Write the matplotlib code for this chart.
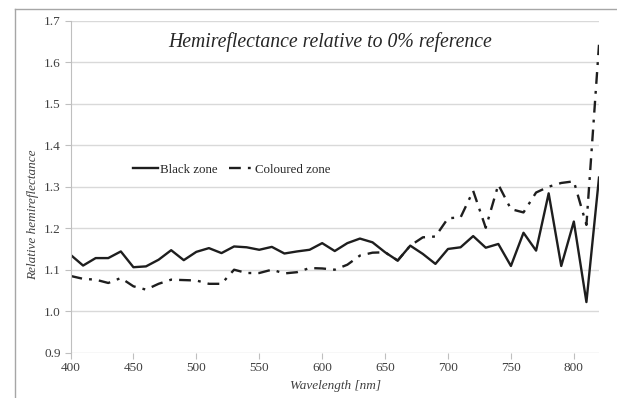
import matplotlib
matplotlib.use("Agg")
import matplotlib.pyplot as plt
from matplotlib.lines import Line2D

wavelength = list(range(400, 830, 10))

black_zone = [1.136, 1.110, 1.128, 1.128, 1.144, 1.106, 1.108, 1.124, 1.147, 1.123,
              1.143, 1.152, 1.140, 1.156, 1.154, 1.148, 1.155, 1.139, 1.144, 1.148,
              1.164, 1.145, 1.164, 1.175, 1.166, 1.142, 1.122, 1.158, 1.138, 1.114,
              1.150, 1.154, 1.181, 1.153, 1.162, 1.109, 1.189, 1.146, 1.284, 1.109,
              1.216, 1.022, 1.322]

coloured_zone = [1.085, 1.078, 1.076, 1.068, 1.080, 1.060, 1.052, 1.066, 1.076, 1.075,
                 1.074, 1.066, 1.066, 1.100, 1.092, 1.092, 1.100, 1.091, 1.094, 1.104,
                 1.103, 1.100, 1.112, 1.134, 1.141, 1.142, 1.122, 1.158, 1.178, 1.180,
                 1.224, 1.226, 1.290, 1.201, 1.305, 1.246, 1.238, 1.286, 1.300, 1.309,
                 1.313, 1.208, 1.642]

x_ticks = [400, 450, 500, 550, 600, 650, 700, 750, 800]
y_ticks = [0.9, 1.0, 1.1, 1.2, 1.3, 1.4, 1.5, 1.6, 1.7]

plt.rcParams["font.family"] = ["Liberation Serif", "DejaVu Serif"]

W, H = 617, 398
fig = plt.figure(figsize=(W / 100, H / 100), dpi=100)
ax = fig.add_axes([70.5 / W, 1 - 352.7 / H, (599 - 70.5) / W, (352.7 - 20.7) / H])

ax.plot(wavelength, black_zone, color="#1e1e1e", lw=1.7, label="Black zone")
ax.plot(wavelength, coloured_zone, color="#1e1e1e", lw=1.7, label="Coloured zone",
        ls=(0, (5, 3, 1.2, 3)))

ax.set_xlim(400, 820)
ax.set_ylim(0.9, 1.7)
ax.set_xticks(x_ticks)
ax.set_yticks(y_ticks)
ax.set_yticklabels([f"{v:.1f}" for v in y_ticks])
ax.grid(axis="y", color="#d9d9d9", lw=1)
ax.set_axisbelow(True)

for s in ["top", "right", "bottom"]:
    ax.spines[s].set_visible(False)
ax.spines["left"].set_color("#bfbfbf")
ax.tick_params(axis="y", length=4, color="#bfbfbf", labelsize=9.5, labelcolor="#404040", pad=3)
ax.tick_params(axis="x", length=4, color="#bfbfbf", labelsize=9.5, labelcolor="#404040", pad=3)

# title sits inside the plot area
ax.text(606, 1.648, "Hemireflectance relative to 0% reference",
        ha="center", va="center", fontsize=14.2, style="italic", color="#262626")

ax.legend(loc="center", bbox_to_anchor=(232 / W, 1 - 170 / H),
          bbox_transform=fig.transFigure, ncol=2, frameon=False, fontsize=9.3,
          handlelength=1.9, handletextpad=0.15, columnspacing=0.9,
          labelcolor="#262626")

fig.text(33 / W, 1 - 215 / H, "Relative hemireflectance", rotation=90,
         ha="center", va="center", fontsize=9.5, style="italic", color="#404040")
fig.text(336 / W, 1 - 386 / H, "Wavelength [nm]", ha="center", va="center",
         fontsize=9.5, style="italic", color="#404040")

# chart border (cropped at right and bottom)
fig.add_artist(Line2D([15 / W, 15 / W], [0, 1 - 9 / H], transform=fig.transFigure,
                      color="#a6a6a6", lw=1))
fig.add_artist(Line2D([15 / W, 1], [1 - 9 / H, 1 - 9 / H], transform=fig.transFigure,
                      color="#a6a6a6", lw=1))

fig.savefig("out.png", dpi=100)
